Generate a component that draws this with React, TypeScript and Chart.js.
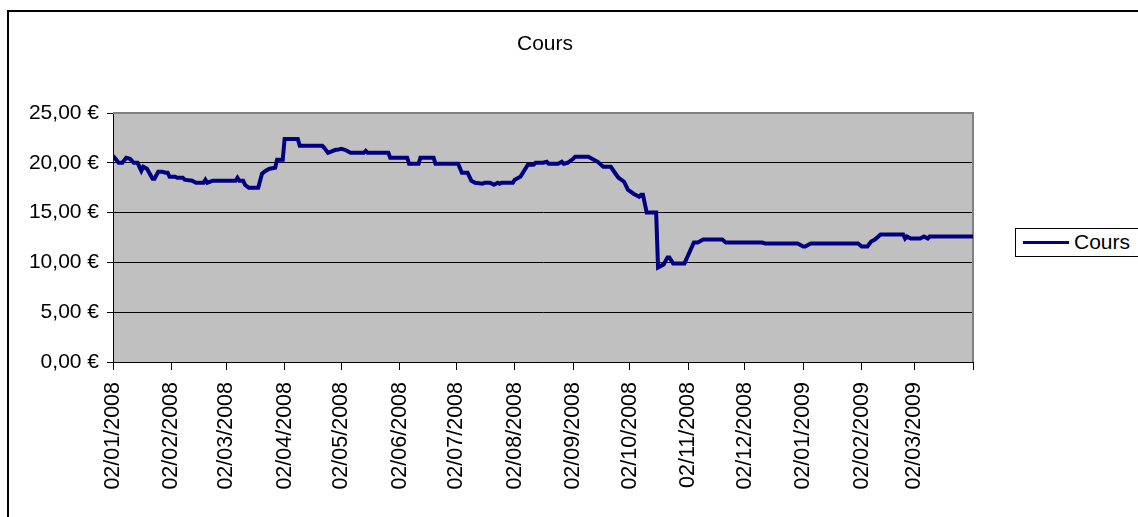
import React, { useEffect, useRef } from 'react';
import { Chart, registerables } from 'chart.js';

Chart.register(...registerables);

// Day offsets from 02/01/2008 and closing prices (€)
const dayOffsets = [
  0, 3, 5, 7, 9, 11, 13, 15, 16, 18, 21, 22, 24, 26, 28, 29, 30, 33, 34, 37,
  38, 42, 44, 48, 49, 50, 53, 65, 66, 67, 69, 70, 72, 77, 79, 81, 83, 86, 87, 90,
  91, 98, 99, 111, 112, 114, 118, 119, 121, 123, 126, 133, 134, 135, 146, 147, 156, 157, 162, 163,
  170, 171, 183, 185, 188, 190, 192, 196, 197, 200, 202, 204, 205, 206, 212, 213, 216, 218, 220, 223,
  224, 228, 230, 231, 236, 238, 239, 241, 244, 245, 252, 254, 257, 260, 264, 265, 268, 271, 273, 276,
  279, 280, 281, 283, 288, 289, 292, 294, 295, 297, 303, 308, 310, 313, 323, 325, 344, 346, 363, 366,
  367, 370, 395, 397, 400, 402, 404, 407, 419, 420, 421, 423, 428, 430, 432, 433, 456,
];
const prices = [
  20.7, 20.0, 20.0, 20.5, 20.4, 20.0, 20.0, 19.2, 19.6, 19.4, 18.4, 18.4, 19.1, 19.1, 19.0, 19.0, 18.6, 18.6, 18.5, 18.5,
  18.3, 18.2, 18.0, 18.0, 18.3, 18.0, 18.2, 18.2, 18.5, 18.2, 18.2, 17.8, 17.5, 17.5, 18.9, 19.2, 19.4, 19.5, 20.3, 20.3,
  22.4, 22.4, 21.7, 21.7, 21.5, 21.0, 21.3, 21.3, 21.4, 21.3, 21.0, 21.0, 21.2, 21.0, 21.0, 20.5, 20.5, 19.9, 19.9, 20.5,
  20.5, 19.9, 19.9, 19.0, 19.0, 18.2, 18.0, 17.9, 18.0, 18.0, 17.8, 18.0, 17.9, 18.0, 18.0, 18.3, 18.6, 19.2, 19.8, 19.8,
  20.0, 20.0, 20.1, 19.9, 19.9, 20.1, 19.9, 20.0, 20.4, 20.6, 20.6, 20.4, 20.1, 19.6, 19.6, 19.3, 18.5, 18.1, 17.3, 16.9,
  16.6, 16.8, 16.8, 15.0, 15.0, 9.5, 9.8, 10.5, 10.5, 9.9, 9.9, 12.0, 12.0, 12.3, 12.3, 12.0, 12.0, 11.9, 11.9, 11.6,
  11.6, 11.9, 11.9, 11.6, 11.6, 12.1, 12.3, 12.8, 12.8, 12.4, 12.6, 12.4, 12.4, 12.6, 12.4, 12.6, 12.6,
];
const monthTicks = [
  '02/01/2008', '02/02/2008', '02/03/2008', '02/04/2008', '02/05/2008', '02/06/2008',
  '02/07/2008', '02/08/2008', '02/09/2008', '02/10/2008', '02/11/2008', '02/12/2008',
  '02/01/2009', '02/02/2009', '02/03/2009', '02/04/2009',
];
const yTicks = [0, 5, 10, 15, 20, 25];
const seriesName = 'Cours';
const chartTitle = 'Cours';

const FONT = "'Liberation Sans', Arial, sans-serif";

function toDay(s: string): number {
  const [d, m, y] = s.split('/').map(Number);
  return Date.UTC(y, m - 1, d) / 86400000;
}
const startDay = toDay(monthTicks[0]);
const tickDays = monthTicks.map((t) => toDay(t) - startDay);

export default function App() {
  const ref = useRef<HTMLCanvasElement | null>(null);

  useEffect(() => {
    if (!ref.current) return;
    const bgPlugin = {
      id: 'plotbg',
      beforeDraw(chart: any) {
        const { ctx, chartArea: a } = chart;
        ctx.save();
        ctx.fillStyle = '#C0C0C0';
        ctx.fillRect(a.left, a.top, a.right - a.left, a.bottom - a.top);
        ctx.restore();
      },
      beforeDatasetsDraw(chart: any) {
        const { ctx, chartArea: a } = chart;
        ctx.save();
        ctx.strokeStyle = '#808080';
        ctx.lineWidth = 2;
        ctx.beginPath();
        ctx.moveTo(a.left, a.top);
        ctx.lineTo(a.right, a.top);
        ctx.lineTo(a.right, a.bottom);
        ctx.stroke();
        ctx.restore();
      },
    };
    const chart = new Chart(ref.current, {
      type: 'line',
      data: {
        datasets: [
          {
            label: seriesName,
            data: dayOffsets.map((d, i) => ({ x: d, y: prices[i] })),
            borderColor: '#000080',
            backgroundColor: '#000080',
            borderWidth: 4,
            pointRadius: 0,
            tension: 0,
          },
        ],
      },
      options: {
        animation: false,
        responsive: false,
        layout: { padding: { left: 0, top: 113, right: 165, bottom: 0 } },
        plugins: {
          legend: { display: false },
          tooltip: { enabled: false },
          title: { display: false },
        },
        scales: {
          x: {
            type: 'linear',
            min: tickDays[0],
            max: tickDays[tickDays.length - 1],
            afterBuildTicks: (axis: any) => {
              axis.ticks = tickDays.map((v) => ({ value: v }));
            },
            afterFit: (axis: any) => {
              axis.height = 155;
            },
            grid: {
              display: true,
              drawOnChartArea: false,
              drawTicks: true,
              tickLength: 8,
              tickColor: '#000',
              color: '#000',
            },
            border: { display: true, color: '#000', width: 1 },
            ticks: {
              autoSkip: false,
              maxRotation: 90,
              minRotation: 90,
              padding: 12,
              color: '#000',
              font: { family: FONT, size: 21.5 },
              callback: (_v: any, i: number) => (i < monthTicks.length - 1 ? monthTicks[i] : ''),
            },
          },
          y: {
            min: yTicks[0],
            max: yTicks[yTicks.length - 1],
            afterBuildTicks: (axis: any) => {
              axis.ticks = yTicks.map((v) => ({ value: v }));
            },
            afterFit: (axis: any) => {
              axis.width = 113;
            },
            grid: {
              color: (c: any) => (c.tick && c.tick.value === 25 ? '#808080' : '#000'),
              tickColor: '#000',
              tickLength: 6,
              lineWidth: 1,
            },
            border: { display: true, color: '#000', width: 1 },
            ticks: {
              padding: 8,
              color: '#000',
              font: { family: FONT, size: 21 },
              callback: (v: any) => Number(v).toFixed(2).replace('.', ',') + ' €',
            },
          },
        },
      },
      plugins: [bgPlugin],
    } as any);
    return () => chart.destroy();
  }, []);

  return (
    <div
      style={{
        position: 'fixed',
        left: 0,
        top: 0,
        width: 1138,
        height: 517,
        overflow: 'hidden',
        background: '#fff',
        fontFamily: FONT,
      }}
    >
      <div
        style={{
          position: 'absolute',
          left: 7,
          top: 10,
          width: 1200,
          height: 600,
          border: '2px solid #000',
          boxSizing: 'border-box',
        }}
      />
      <canvas
        ref={ref}
        width={1138}
        height={517}
        style={{ position: 'absolute', left: 0, top: 0, width: 1138, height: 517 }}
      />
      <div
        style={{
          position: 'absolute',
          left: 445,
          width: 200,
          top: 31,
          textAlign: 'center',
          fontSize: 21,
          color: '#000',
          lineHeight: '24px',
        }}
      >
        {chartTitle}
      </div>
      <div
        style={{
          position: 'absolute',
          left: 1015,
          top: 228,
          width: 200,
          height: 29,
          border: '1px solid #000',
          boxSizing: 'border-box',
          background: '#fff',
        }}
      >
        <div
          style={{
            position: 'absolute',
            left: 7,
            top: 12,
            width: 46,
            height: 3,
            background: '#000080',
          }}
        />
        <div
          style={{
            position: 'absolute',
            left: 58,
            top: 1,
            fontSize: 21,
            lineHeight: '24px',
            color: '#000',
            whiteSpace: 'nowrap',
          }}
        >
          {seriesName}
        </div>
      </div>
    </div>
  );
}
